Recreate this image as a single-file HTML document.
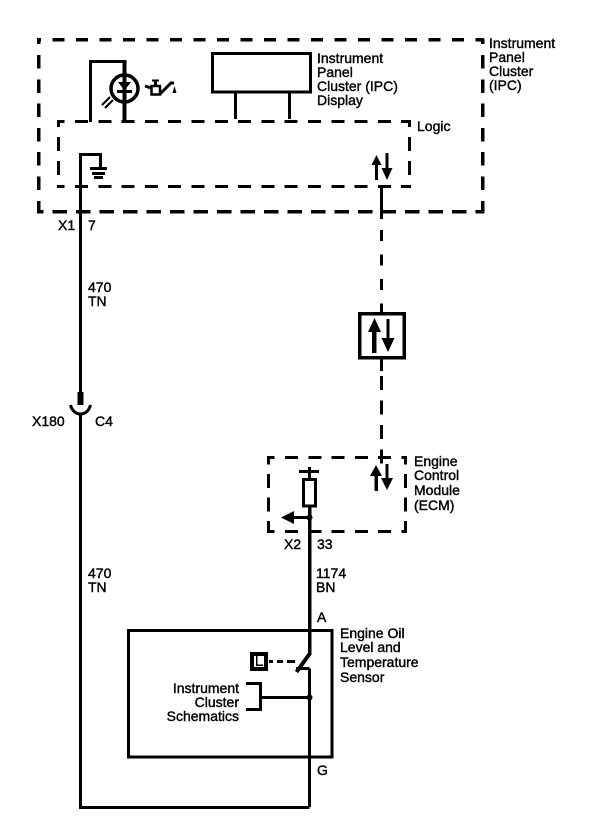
<!DOCTYPE html>
<html><head><meta charset="utf-8"><style>
html,body{margin:0;padding:0;background:#fff}
svg{display:block}
text{font-family:"Liberation Sans",Arial,sans-serif;font-size:14px;fill:#000;stroke:#000;stroke-width:.4}
</style></head><body>
<svg width="608" height="832" viewBox="0 0 608 832" xmlns="http://www.w3.org/2000/svg">
<g fill="none" stroke="#000" stroke-width="3" shape-rendering="crispEdges">
<!-- outer dashed box -->
<g stroke-width="3.500">
<path d="M37 39.500H484" stroke-dasharray="12 11.500" stroke-dashoffset="8"/>
<path d="M37 211.500H484" stroke-dasharray="14.500 9" stroke-dashoffset="8"/>
<path d="M38.500 39V213" stroke-dasharray="13.500 10.800" stroke-dashoffset="8.300"/>
<path d="M482.500 39V213" stroke-dasharray="13.500 10.800" stroke-dashoffset="8.300"/>
</g>
<!-- inner dashed box -->
<path d="M57 121.500H411" stroke-dasharray="13 10.300" stroke-dashoffset="5.300"/>
<path d="M57 186.500H411" stroke-dasharray="13 10.300" stroke-dashoffset="5.300"/>
<path d="M58.500 120V188" stroke-dasharray="14 10" stroke-dashoffset="7"/>
<path d="M409.500 120V188" stroke-dasharray="14 10" stroke-dashoffset="7"/>
<!-- ECM dashed box -->
<path d="M267 457.500H407" stroke-dasharray="13 10.300" stroke-dashoffset="5.300"/>
<path d="M267 531.500H407" stroke-dasharray="13 10.300" stroke-dashoffset="5.300"/>
<path d="M268.500 456V533" stroke-dasharray="14 9.500" stroke-dashoffset="5.500"/>
<path d="M405.500 456V533" stroke-dasharray="14 9.500" stroke-dashoffset="5.500"/>
<!-- top wiring -->
<path d="M90.500 122V61.500H124.500"/>
<path d="M124.500 60V122" stroke-width="4"/>
<rect x="212.500" y="53.500" width="98" height="38.500"/>
<path d="M235.500 92V119M289.500 92V119"/>
<!-- ground -->
<path d="M80.500 241V154.500H100.500V167"/>
<path d="M90 168.500H107M92 173.500H105M94 177.500H103"/>
<!-- left wire -->
<path d="M80.500 241V392M80.500 414V807.500H309.500"/>
<path d="M80.500 392V405" stroke-width="6"/>
<!-- logic data wire -->
<path d="M381.500 187V219"/>
<path d="M381.500 230V312" stroke-dasharray="11 13.500"/>
<path d="M381.500 358V371M381.500 376V466" stroke-dasharray="14 10.500"/>
<rect x="359.500" y="313.500" width="44.500" height="44" stroke-width="3.500"/>
<!-- ECM -->
<path d="M299 471.500H319M309.500 467V479"/>
<rect x="303.500" y="479.500" width="12" height="26.500"/>
<path d="M309.500 506V655" stroke-width="3.500"/>
<path d="M292 517.500H309"/>
<!-- sensor -->
<rect x="128.500" y="630.500" width="203.500" height="126.500"/>
<rect x="252" y="654" width="14" height="15" stroke-width="4"/>
<path d="M269 661.500H273M277 661.500H283M287 661.500H295"/>
<path d="M309.500 668.500V807M296 668.500H309.500"/>
<path d="M246 683.500H260.500V709.500H246M260.500 697.500H309"/>
<path d="M256.500 656V665H263" stroke-width="1.500"/>
</g>
<g fill="none" stroke="#000" stroke-width="3">
<path d="M309.500 654L296.500 672" stroke-width="4"/>
<path d="M70.500 405C72 411 76 414 80.500 414S89 411 90.500 405"/>
<circle cx="124.500" cy="88.500" r="13.500" stroke-width="3.500"/>
<!-- photo arrows -->
<path d="M102 105L110 97M105 108L113 100" stroke-width="2"/>
<!-- oil can -->
<rect x="151.500" y="86" width="8.500" height="8.500" stroke-width="2.500"/>
<path d="M145 86L151 88M155.500 81V86M160 94L171 83H174" stroke-width="3"/>
<path d="M152 80.500H159" stroke-width="2"/>
</g>
<g fill="#000">
<path d="M118 82H131L124.500 90.500Z"/>
<rect x="117" y="90" width="15" height="3"/>
<circle cx="309.500" cy="517.500" r="3"/>
<circle cx="309.500" cy="697.500" r="3"/>
<path d="M281 517.500L294 511V524Z"/>
<path d="M172.500 93L174.500 86L176.500 93Z"/>
<!-- logic arrows -->
<rect x="375" y="160" width="3" height="20"/><path d="M376.500 155L381.500 165H371.500Z"/>
<rect x="385.500" y="153" width="3" height="18"/><path d="M387 180L381.500 168H392.500Z"/>
<!-- centre box arrows -->
<rect x="372" y="326" width="4.500" height="27"/><path d="M374.500 318L381 332H368Z"/>
<rect x="386.500" y="319" width="3" height="24"/><path d="M388 352L381.500 338H394.500Z"/>
<!-- ECM arrows -->
<rect x="374.500" y="470" width="3.500" height="21"/><path d="M376 465L382 476H370Z"/>
<rect x="385.500" y="464" width="3" height="20"/><path d="M387 490L381 478H393Z"/>
</g>
<text x="317" y="63">Instrument</text><text x="317" y="77">Panel</text><text x="317" y="91">Cluster (IPC)</text><text x="317" y="105">Display</text>
<text x="489" y="48">Instrument</text><text x="489" y="62">Panel</text><text x="489" y="76">Cluster</text><text x="489" y="90">(IPC)</text>
<text x="417" y="131">Logic</text>
<text x="58" y="230">X1</text><text x="88" y="230">7</text>
<text x="88" y="292">470</text><text x="88" y="306">TN</text>
<text x="32" y="426">X180</text><text x="95" y="426">C4</text>
<text x="88" y="578">470</text><text x="88" y="592">TN</text>
<text x="414" y="466">Engine</text><text x="414" y="480">Control</text><text x="414" y="495">Module</text><text x="414" y="510">(ECM)</text>
<text x="284" y="549">X2</text><text x="317" y="549">33</text>
<text x="316" y="578">1174</text><text x="316" y="592">BN</text>
<text x="317" y="622">A</text><text x="317" y="775">G</text>
<text x="340" y="638">Engine Oil</text><text x="340" y="652">Level and</text><text x="340" y="667">Temperature</text><text x="340" y="682">Sensor</text>
<text x="239" y="693" text-anchor="end">Instrument</text><text x="239" y="707" text-anchor="end">Cluster</text><text x="239" y="721" text-anchor="end">Schematics</text>
</svg>
</body></html>
